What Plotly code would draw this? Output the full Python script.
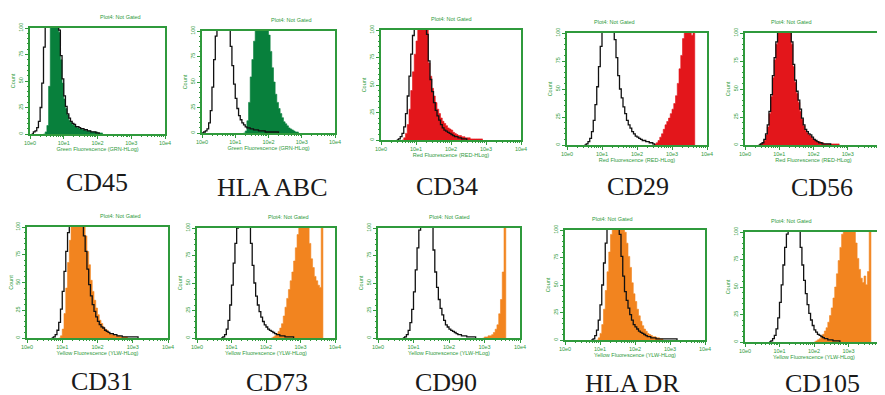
import plotly.graph_objects as go

# ---------------- data (counts per 0.05-decade channel, starting log10 value) ----------------
BIN = 0.05
markers = ["CD45", "HLA ABC", "CD34", "CD29", "CD56", "CD31", "CD73", "CD90", "HLA DR", "CD105"]
channels = ["Green Fluorescence (GRN-HLog)"] * 2 + ["Red Fluorescence (RED-HLog)"] * 3 + \
           ["Yellow Fluorescence (YLW-HLog)"] * 5
fill_colors = ["#08803c", "#08803c", "#e3161b", "#e3161b", "#e3161b",
               "#f2841f", "#f2841f", "#f2841f", "#f2841f", "#f2841f"]
x_tick_vals = [1, 10, 100, 1000, 10000]
x_tick_text = ["10e0", "10e1", "10e2", "10e3", "10e4"]
y_tick_vals = [0, 25, 50, 75, 100]

cd45_ctrl_start = 0.10
cd45_ctrl = [2, 3, 6, 12, 25, 48, 82, 108, 128, 140, 142, 135, 125, 115, 104, 98, 74, 52, 36, 26, 19, 15, 12, 10,
             9, 7, 7, 6, 5, 5, 4, 4, 3, 3, 2, 2, 2, 1, 1, 0]
cd45_stain_start = 0.45
cd45_stain = [2, 8, 45, 105, 135, 150, 142, 125, 96, 70, 48, 33, 24, 18, 13, 11, 9, 8, 7, 6, 5, 5, 4, 4, 3, 3, 3,
              2, 2, 2, 2, 1, 1, 1, 0]

hlaabc_ctrl_start = 0.05
hlaabc_ctrl = [1, 2, 4, 10, 22, 45, 72, 95, 115, 130, 138, 136, 128, 120, 112, 104, 85, 66, 48, 34, 24, 17, 13, 10,
               8, 6, 5, 5, 4, 4, 3, 3, 3, 2, 2, 2, 2, 1, 1, 1, 1, 1, 1, 1, 1, 0]
hlaabc_stain_start = 1.30
hlaabc_stain = [2, 12, 30, 55, 72, 90, 108, 125, 138, 142, 140, 132, 120, 108, 96, 80, 64, 50, 38, 30, 24, 19, 15,
                11, 9, 7, 5, 4, 3, 2, 1, 1, 0]

cd34_ctrl_start = 0.50
cd34_ctrl = [1, 3, 6, 12, 24, 40, 58, 78, 95, 112, 125, 132, 130, 122, 112, 104, 96, 72, 55, 44, 34, 27, 22, 18,
             14, 11, 9, 8, 7, 6, 5, 4, 3, 3, 2, 2, 1, 1, 1, 0]
cd34_stain_start = 0.65
cd34_stain = [2, 6, 14, 28, 45, 62, 78, 90, 104, 125, 135, 128, 115, 100, 70, 58, 47, 40, 34, 28, 24, 20, 17, 15,
              13, 11, 10, 9, 7, 6, 5, 4, 4, 3, 3, 2, 2, 2, 1, 1, 1, 1, 1, 1, 1, 0]

cd29_ctrl_start = 0.55
cd29_ctrl = [1, 3, 6, 12, 22, 36, 52, 70, 88, 106, 120, 128, 130, 126, 118, 108, 94, 78, 62, 50, 42, 34, 28, 22,
             18, 15, 12, 10, 8, 7, 6, 5, 4, 4, 3, 3, 2, 2, 1, 0]
cd29_stain_start = 2.50
cd29_stain = [1, 2, 4, 7, 10, 14, 18, 21, 24, 28, 32, 37, 44, 55, 68, 80, 95, 108, 115, 105, 120, 98, 130, 0]

cd56_ctrl_start = 0.45
cd56_ctrl = [1, 2, 5, 10, 18, 30, 45, 62, 78, 92, 104, 118, 128, 132, 130, 124, 114, 106, 92, 72, 58, 48, 40, 32,
             24, 18, 14, 12, 10, 9, 7, 5, 4, 3, 2, 2, 1, 1, 1, 1, 1, 0]
cd56_stain_start = 0.45
cd56_stain = [1, 2, 4, 9, 16, 28, 43, 60, 76, 90, 103, 116, 126, 130, 128, 122, 112, 104, 90, 70, 56, 46, 38, 30,
              23, 17, 13, 11, 9, 8, 6, 5, 4, 3, 3, 2, 2, 1, 1, 1, 1, 1, 1, 1, 1, 1, 0]

cd31_ctrl_start = 0.75
cd31_ctrl = [1, 3, 7, 14, 26, 42, 60, 78, 95, 112, 126, 134, 132, 126, 118, 110, 103, 92, 78, 62, 48, 38, 30, 24,
             19, 15, 12, 10, 9, 7, 6, 5, 4, 4, 3, 3, 2, 2, 2, 1, 1, 1, 1, 1, 1, 1, 1, 1, 0]
cd31_stain_start = 0.95
cd31_stain = [2, 8, 22, 45, 68, 88, 104, 125, 140, 138, 130, 120, 110, 102, 92, 78, 66, 52, 42, 34, 27, 21, 16, 13,
              10, 8, 7, 5, 4, 3, 3, 2, 2, 2, 1, 1, 1, 1, 0]

cd73_ctrl_start = 0.75
cd73_ctrl = [1, 3, 8, 16, 30, 48, 68, 86, 100, 118, 130, 136, 134, 126, 116, 104, 86, 66, 50, 38, 30, 24, 19, 15,
             12, 10, 8, 7, 6, 5, 4, 3, 3, 2, 2, 2, 1, 1, 1, 1, 1, 0]
cd73_stain_start = 2.20
cd73_stain = [1, 2, 4, 6, 9, 13, 20, 28, 36, 44, 52, 60, 70, 82, 94, 106, 118, 125, 122, 112, 102, 86, 72, 64, 56,
              52, 48, 46, 140, 0]

cd90_ctrl_start = 0.75
cd90_ctrl = [1, 3, 7, 14, 26, 42, 62, 82, 98, 114, 126, 132, 130, 122, 112, 102, 80, 60, 46, 35, 27, 21, 16, 12,
             10, 8, 7, 6, 5, 4, 3, 3, 2, 2, 2, 1, 1, 1, 1, 1, 0]
cd90_stain_start = 3.00
cd90_stain = [1, 1, 2, 2, 3, 5, 8, 12, 22, 35, 60, 140, 0]

hladr_ctrl_start = 0.80
hladr_ctrl = [1, 4, 9, 18, 32, 50, 70, 88, 102, 118, 128, 132, 128, 118, 106, 96, 76, 58, 44, 36, 29, 23, 18, 14,
              12, 10, 8, 7, 6, 5, 4, 3, 3, 2, 2, 2, 1, 1, 1, 1, 1, 1, 1, 1, 1, 1, 1, 1, 0]
hladr_stain_start = 0.95
hladr_stain = [2, 6, 14, 28, 45, 62, 80, 96, 112, 128, 136, 132, 124, 114, 106, 98, 88, 76, 66, 52, 42, 35, 28, 22,
               17, 13, 10, 8, 6, 5, 4, 3, 3, 2, 2, 1, 1, 0]

cd105_ctrl_start = 0.75
cd105_ctrl = [1, 3, 6, 12, 22, 36, 52, 70, 86, 98, 112, 124, 130, 128, 120, 110, 102, 86, 70, 56, 44, 34, 26, 20,
              15, 11, 9, 7, 6, 5, 4, 3, 3, 2, 2, 2, 1, 1, 1, 1, 0]
cd105_stain_start = 2.05
cd105_stain = [1, 2, 3, 5, 7, 10, 13, 18, 24, 31, 40, 50, 62, 74, 86, 98, 110, 120, 128, 130, 126, 118, 104, 90,
               76, 66, 58, 54, 60, 52, 64, 140, 0]

controls = [(cd45_ctrl_start, cd45_ctrl), (hlaabc_ctrl_start, hlaabc_ctrl), (cd34_ctrl_start, cd34_ctrl),
            (cd29_ctrl_start, cd29_ctrl), (cd56_ctrl_start, cd56_ctrl), (cd31_ctrl_start, cd31_ctrl),
            (cd73_ctrl_start, cd73_ctrl), (cd90_ctrl_start, cd90_ctrl), (hladr_ctrl_start, hladr_ctrl),
            (cd105_ctrl_start, cd105_ctrl)]
stains = [(cd45_stain_start, cd45_stain), (hlaabc_stain_start, hlaabc_stain), (cd34_stain_start, cd34_stain),
          (cd29_stain_start, cd29_stain), (cd56_stain_start, cd56_stain), (cd31_stain_start, cd31_stain),
          (cd73_stain_start, cd73_stain), (cd90_stain_start, cd90_stain), (hladr_stain_start, hladr_stain),
          (cd105_stain_start, cd105_stain)]

# ---------------- layout geometry (window pixels: left, right, top, bottom of each plot box) ----------------
OFF = 8                      # page body margin in the browser
W, H = 885 - OFF, 395 - OFF  # figure size so that it ends at the window edge
boxes = [(30, 165, 28, 134), (202, 335, 31, 133), (381, 521, 30, 140), (567, 707, 33, 145), (745, 882, 33, 145),
         (27, 168, 227, 338), (197, 335, 228, 338), (378, 520, 228, 338), (565, 705, 230, 340), (745, 883, 232, 342)]
label_pos = [(97, 182), (272, 187), (447, 186), (638, 186), (822, 187),
             (102, 381), (277, 382), (446, 382), (632, 383), (822, 383)]


def px(x):
    return (x - OFF) / W


def py(y):
    return 1 - (y - OFF) / H


GREEN = "#2f9a3c"
SMALL = dict(family="Arial, Liberation Sans, sans-serif", size=5.5, color=GREEN)


def hist_xy(start, counts):
    xs = [10 ** (start - BIN)] + [10 ** (start + i * BIN) for i in range(len(counts))]
    ys = [0] + list(counts)
    return xs, ys


fig = go.Figure()
minor_x = [m * 10 ** d for d in range(4) for m in range(2, 10)]

for k in range(10):
    ax = "" if k == 0 else str(k + 1)
    xref, yref = "x" + ax, "y" + ax
    sx, sy = hist_xy(*stains[k])
    fig.add_trace(go.Scatter(x=sx, y=sy, mode="lines", line_shape="hv", fill="tozeroy",
                             fillcolor=fill_colors[k], line=dict(color=fill_colors[k], width=0.6),
                             xaxis=xref, yaxis=yref, showlegend=False, hoverinfo="skip"))
    cx, cy = hist_xy(*controls[k])
    fig.add_trace(go.Scatter(x=cx, y=cy, mode="lines", line_shape="hv",
                             line=dict(color="#111111", width=1.3),
                             xaxis=xref, yaxis=yref, showlegend=False, hoverinfo="skip"))
    l, r, t, b = boxes[k]
    fig.layout["xaxis" + ax] = dict(
        type="log", domain=[px(l), min(px(r), 1)], range=[0, 4], anchor=yref, automargin=False,
        tickvals=x_tick_vals, ticktext=x_tick_text, tickfont=SMALL, ticks="outside", ticklen=3,
        tickcolor=GREEN, tickwidth=1,
        minor=dict(tickvals=minor_x, ticks="outside", ticklen=1.5, tickcolor=GREEN),
        showline=True, linecolor=GREEN, linewidth=1.5, mirror=True, showgrid=False, zeroline=False,
        title=dict(text=channels[k], font=SMALL, standoff=2), fixedrange=True)
    fig.layout["yaxis" + ax] = dict(
        domain=[py(b), py(t)], range=[0, 100], anchor=xref, automargin=False,
        tickvals=y_tick_vals, tickfont=SMALL, tickangle=-90, ticks="outside", ticklen=3,
        tickcolor=GREEN, tickwidth=1,
        minor=dict(dtick=5, ticks="outside", ticklen=1.5, tickcolor=GREEN),
        showline=True, linecolor=GREEN, linewidth=1.5, mirror=True, showgrid=False, zeroline=False,
        title=dict(text="Count", font=SMALL, standoff=2), fixedrange=True)
    fig.add_annotation(x=px((l + r) / 2), y=py(t - 11), xref="paper", yref="paper",
                       text="Plot4: Not Gated", showarrow=False, font=SMALL, yanchor="middle")
    lx, ly = label_pos[k]
    fig.add_annotation(x=px(lx), y=py(ly), xref="paper", yref="paper", text=markers[k],
                       showarrow=False, yanchor="middle", xanchor="center", borderpad=0,
                       font=dict(family="Times New Roman, Liberation Serif, serif", size=26, color="#1a1a1a"))

fig.update_layout(width=W, height=H, margin=dict(l=0, r=0, t=0, b=0),
                  paper_bgcolor="white", plot_bgcolor="white")
fig.write_html("out.html")
